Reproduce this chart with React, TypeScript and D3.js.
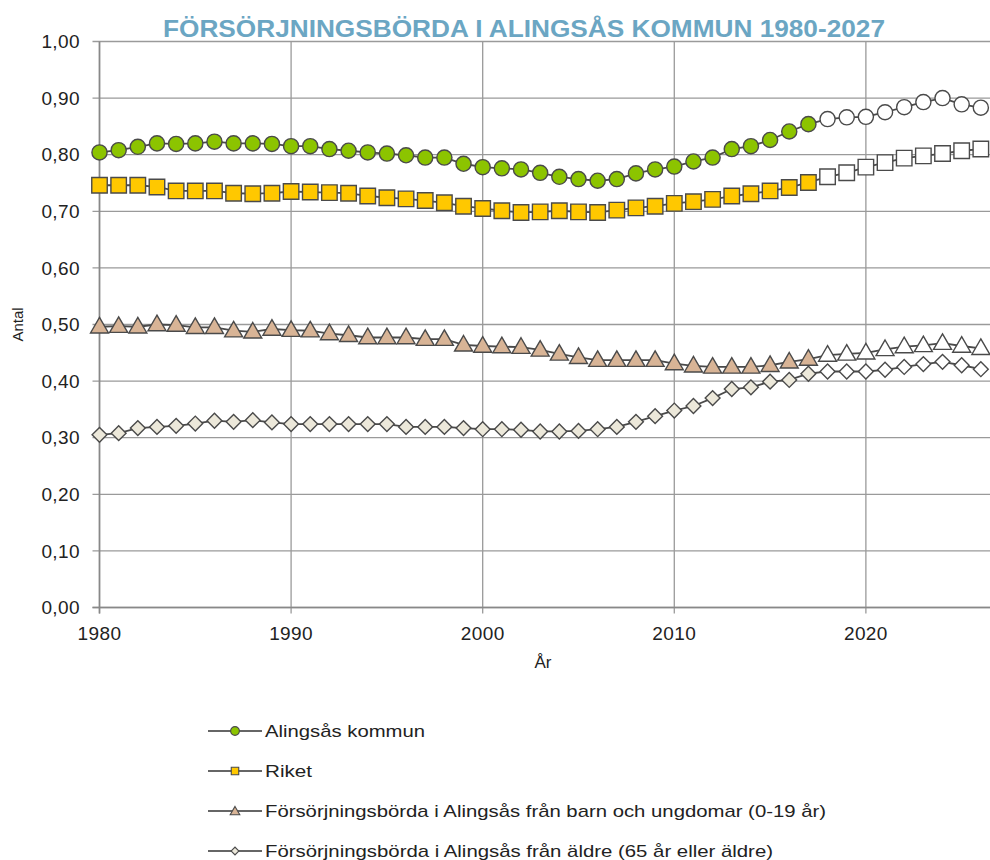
import * as d3 from "d3";

const W = 990;
const H = 860;
const MARGIN = { top: 41.5, bottom: 252.5, left: 99.5, right: -10 };

const years: number[] = d3.range(1980, 2027);
const FORECAST_FROM = 2018;

const alingsas = [
  0.804, 0.808, 0.814, 0.820, 0.819, 0.820, 0.823, 0.820, 0.820, 0.819,
  0.815, 0.815, 0.810, 0.807, 0.804, 0.802, 0.799, 0.795, 0.795, 0.784,
  0.778, 0.776, 0.774, 0.768, 0.761, 0.757, 0.754, 0.757, 0.767, 0.774,
  0.779, 0.788, 0.795, 0.810, 0.815, 0.826, 0.841, 0.854, 0.863, 0.866,
  0.867, 0.875, 0.884, 0.893, 0.900, 0.889, 0.883,
];
const riket = [
  0.746, 0.746, 0.746, 0.743, 0.736, 0.736, 0.736, 0.732, 0.731, 0.732,
  0.735, 0.734, 0.733, 0.732, 0.727, 0.724, 0.722, 0.719, 0.715, 0.709,
  0.705, 0.701, 0.698, 0.699, 0.701, 0.699, 0.698, 0.702, 0.706, 0.709,
  0.714, 0.717, 0.721, 0.727, 0.731, 0.736, 0.742, 0.751, 0.761, 0.768,
  0.778, 0.786, 0.794, 0.798, 0.802, 0.807, 0.810,
];
const barn = [
  0.496, 0.497, 0.496, 0.500, 0.499, 0.495, 0.495, 0.489, 0.487, 0.492,
  0.490, 0.489, 0.484, 0.481, 0.477, 0.477, 0.477, 0.474, 0.474, 0.464,
  0.462, 0.461, 0.460, 0.455, 0.448, 0.442, 0.437, 0.437, 0.437, 0.437,
  0.431, 0.427, 0.425, 0.425, 0.425, 0.428, 0.434, 0.439, 0.446, 0.448,
  0.450, 0.456, 0.461, 0.463, 0.467, 0.462, 0.458,
];
const aldre = [
  0.305, 0.308, 0.317, 0.319, 0.321, 0.325, 0.330, 0.328, 0.331, 0.327,
  0.324, 0.324, 0.324, 0.324, 0.324, 0.324, 0.319, 0.319, 0.319, 0.317,
  0.315, 0.315, 0.314, 0.311, 0.311, 0.312, 0.315, 0.319, 0.328, 0.338,
  0.348, 0.356, 0.370, 0.386, 0.389, 0.399, 0.402, 0.413, 0.417, 0.417,
  0.417, 0.420, 0.425, 0.430, 0.434, 0.428, 0.421,
];

const yTicks = d3.range(0, 1.0001, 0.1);
const xTicks = [1980, 1990, 2000, 2010, 2020];

type Shape = "circle" | "square" | "triangle" | "diamond";

// legendWidth = how wide the label reads in the original legend
const series: { name: string; values: number[]; shape: Shape; fill: string; legendWidth: number }[] = [
  { name: "Alingsås kommun", values: alingsas, shape: "circle", fill: "#8cc400", legendWidth: 160 },
  { name: "Riket", values: riket, shape: "square", fill: "#ffc800", legendWidth: 47 },
  { name: "Försörjningsbörda i Alingsås från barn och ungdomar (0-19 år)", values: barn, shape: "triangle", fill: "#d8b496", legendWidth: 561 },
  { name: "Försörjningsbörda i Alingsås från äldre (65 år eller äldre)", values: aldre, shape: "diamond", fill: "#ece8da", legendWidth: 508 },
];

const FONT = "'Liberation Sans', Arial, sans-serif";
const LINE = "#4a4a4a";

const symbolType = {
  circle: d3.symbolCircle,
  square: d3.symbolSquare,
  triangle: d3.symbolTriangle,
  diamond: d3.symbolDiamond,
};

function Marker({ shape, size, fill, x, y, sw = 1.4 }: { shape: Shape; size: number; fill: string; x: number; y: number; sw?: number }) {
  let d = d3.symbol().type(symbolType[shape]).size(size)()!;
  let tr = `translate(${x},${y})`;
  if (shape === "diamond") {
    d = d3.symbol().type(d3.symbolSquare).size(size * 0.5)()!;
    tr += " rotate(45)";
  }
  if (shape === "triangle") tr += " translate(0,1)";
  return <path d={d} transform={tr} fill={fill} stroke={LINE} strokeWidth={sw} />;
}

export default function App() {
  const x = d3.scaleLinear().domain([1980, 2027]).range([MARGIN.left, W - MARGIN.right]);
  const y = d3.scaleLinear().domain([0, 1]).range([H - MARGIN.bottom, MARGIN.top]);
  const line = d3.line<number>().x((_, i) => x(years[i])).y((v) => y(v));

  const sizes: Record<Shape, number> = { circle: 180, square: 240, triangle: 140, diamond: 220 };
  const legendSizes: Record<Shape, number> = { circle: 60, square: 56, triangle: 40, diamond: 60 };

  return (
    <svg width={W} height={H} style={{ position: "absolute", left: 0, top: 0, background: "#fff" }} fontFamily={FONT}>
      <text x={524} y={37} textAnchor="middle" fontSize={24} fontWeight="bold" fill="#6ba6c3"
        textLength={722} lengthAdjust="spacingAndGlyphs">
        FÖRSÖRJNINGSBÖRDA I ALINGSÅS KOMMUN 1980-2027
      </text>

      {/* grid */}
      {yTicks.map((t) => (
        <g key={"y" + t}>
          <line x1={x(1980) - 7} x2={W} y1={y(t)} y2={y(t)} stroke="#9a9a9a" strokeWidth={1.3} />
          <text x={80} y={y(t)} dy="0.35em" textAnchor="end" fontSize={19} letterSpacing={0.4} fill="#222">
            {d3.format(".2f")(t).replace(".", ",")}
          </text>
        </g>
      ))}
      {xTicks.map((t) => (
        <g key={"x" + t}>
          <line x1={x(t)} x2={x(t)} y1={y(1)} y2={y(0) + 6} stroke="#9a9a9a" strokeWidth={1.3} />
          <text x={x(t)} y={y(0) + 26} dy="0.35em" textAnchor="middle" fontSize={19} letterSpacing={0.4} fill="#222">
            {t}
          </text>
        </g>
      ))}
      <line x1={x(1980)} x2={x(1980)} y1={y(1)} y2={y(0) + 6} stroke="#888" strokeWidth={1.6} />
      <line x1={x(1980) - 7} x2={W} y1={y(0)} y2={y(0)} stroke="#888" strokeWidth={1.6} />

      <text transform={`translate(23,${y(0.5)}) rotate(-90)`} textAnchor="middle" fontSize={15} fill="#222">
        Antal
      </text>
      <text x={543} y={668} textAnchor="middle" fontSize={17} fill="#222">
        År
      </text>

      {/* series */}
      {series.map((s) => (
        <g key={s.name}>
          <path d={line(s.values)!} fill="none" stroke={LINE} strokeWidth={1.8} />
          {s.values.map((v, i) => (
            <Marker key={i} shape={s.shape} size={sizes[s.shape]}
              fill={years[i] >= FORECAST_FROM ? "#fff" : s.fill} x={x(years[i])} y={y(v)} />
          ))}
        </g>
      ))}

      {/* legend */}
      {series.map((s, i) => {
        const ly = 731 + i * 40;
        return (
          <g key={"lg" + s.name}>
            <line x1={208} x2={262} y1={ly} y2={ly} stroke="#666" strokeWidth={2.2} />
            <Marker shape={s.shape} size={legendSizes[s.shape]} fill={s.fill} x={235} y={ly} sw={1.1} />
            <text x={265} y={ly} dy="0.35em" fontSize={17} fill="#222"
              textLength={s.legendWidth} lengthAdjust="spacingAndGlyphs">
              {s.name}
            </text>
          </g>
        );
      })}
    </svg>
  );
}
